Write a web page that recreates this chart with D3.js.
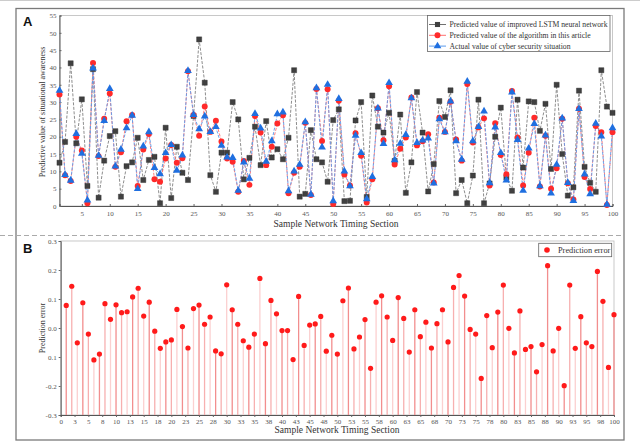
<!DOCTYPE html>
<html>
<head>
<meta charset="utf-8">
<script src="https://cdn.jsdelivr.net/npm/d3@7"></script>
<style>
  body { margin: 0; background: #fff; }
  svg { display: block; }
  text { font-family: "Liberation Serif", "Times New Roman", serif; }
</style>
</head>
<body>
<svg id="chart" width="640" height="441"></svg>
<script>
// Panel A data: samples 1..100
const samples = d3.range(1, 101);

const lstmValues = [
  12.5, 18.5, 41.2, 18.1, 30.8, 5.8, 39.5, 2.4, 13.1, 20.2,
  21.6, 2.7, 11.5, 12.6, 19.7, 7.5, 13.3, 14.2, 0.8, 22.6,
  2.3, 17.1, 9.6, 7.5, 26.0, 48.1, 35.6, 8.9, 4.1, 15.4,
  15.4, 30.0, 25.0, 7.7, 13.9, 22.9, 11.8, 24.5, 14.0, 16.4,
  13.5, 19.7, 39.2, 2.7, 3.5, 21.9, 13.5, 12.6, 7.0, 24.8,
  27.9, 1.4, 1.5, 24.7, 30.0, 2.6, 31.9, 22.9, 21.2, 26.9,
  13.0, 26.4, 3.8, 12.6, 32.9, 21.2, 4.2, 12.1, 30.3, 25.7,
  33.4, 3.7, 7.5, 0.8, 8.8, 30.7, 0.8, 6.5, 20.0, 28.4,
  8.2, 4.4, 30.7, 11.1, 30.2, 30.0, 21.7, 29.5, 10.7, 35.0,
  15.0, 3.0, 5.4, 33.3, 11.3, 6.7, 4.1, 39.2, 28.7, 26.9
];

const algoValues = [
  32.2, 8.9, 7.2, 20.0, 16.0, 0.8, 41.3, 14.4, 25.2, 32.5,
  11.3, 15.5, 24.5, 26.3, 5.8, 16.3, 20.8, 7.7, 7.0, 13.7,
  17.6, 12.5, 13.8, 38.9, 26.3, 20.3, 28.7, 21.4, 24.6, 18.6,
  13.7, 12.8, 4.1, 13.0, 6.1, 26.0, 21.2, 11.8, 17.1, 23.8,
  26.2, 3.7, 9.6, 11.3, 24.0, 3.2, 33.8, 18.8, 33.7, 0.6,
  30.4, 9.1, 5.9, 21.0, 14.5, 1.0, 7.7, 28.2, 19.0, 34.6,
  12.0, 16.5, 19.8, 31.3, 17.5, 18.7, 20.7, 6.8, 25.5, 21.4,
  30.1, 19.2, 13.1, 35.2, 18.3, 22.7, 25.3, 5.9, 23.9, 14.7,
  9.2, 33.2, 19.8, 5.9, 15.4, 25.5, 5.6, 20.3, 5.0, 10.9,
  25.2, 6.6, 1.9, 28.1, 8.4, 4.9, 23.1, 21.3, 0.3, 21.3
];

const actualValues = [
  33.2, 8.9, 7.2, 20.7, 15.0, 1.5, 39.6, 14.4, 24.5, 33.7,
  11.3, 16.2, 22.4, 26.0, 4.8, 17.1, 21.2, 10.9, 9.1, 15.2,
  17.5, 10.1, 14.5, 38.9, 26.2, 22.1, 25.8, 21.3, 22.7, 17.3,
  13.9, 13.8, 4.3, 12.5, 7.8, 26.5, 22.3, 12.7, 18.6, 26.4,
  26.9, 4.2, 9.9, 11.8, 24.1, 3.2, 33.9, 16.8, 34.9, 1.3,
  30.8, 9.9, 5.6, 20.2, 15.2, 1.9, 8.3, 28.1, 17.8, 35.4,
  13.1, 17.9, 20.4, 31.0, 18.1, 18.8, 19.4, 6.4, 25.0, 21.2,
  30.1, 18.6, 13.3, 35.8, 18.6, 22.7, 27.2, 6.5, 22.6, 15.2,
  7.3, 32.7, 19.0, 4.3, 16.5, 23.6, 5.6, 20.3, 3.5, 11.8,
  25.2, 6.6, 1.4, 27.9, 9.0, 3.3, 23.7, 20.0, 0.3, 22.4
];

const topXTicks = d3.range(5, 101, 5);
const topYTicks = d3.range(0, 56, 5);

// Panel B data
const errorValues = [
  0.078, 0.144, -0.051, 0.087, -0.021, -0.110, -0.090, 0.084, 0.030, 0.080,
  0.053, 0.056, 0.107, 0.137, 0.041, 0.089, -0.011, -0.070, -0.048, -0.041,
  0.064, 0.005, -0.069, 0.067, 0.079, 0.013, 0.038, -0.079, -0.089, 0.149,
  0.063, 0.013, -0.044, -0.066, -0.021, 0.171, -0.054, 0.095, 0.049, -0.009,
  -0.009, -0.109, 0.109, -0.060, 0.010, 0.014, 0.040, -0.080, -0.025, -0.090,
  0.094, 0.138, -0.072, -0.031, 0.029, -0.139, 0.089, 0.111, 0.038, -0.043,
  0.105, 0.033, -0.083, 0.063, -0.030, 0.020, -0.069, 0.015, 0.063, -0.048,
  0.140, 0.181, 0.110, -0.005, -0.021, -0.174, 0.043, -0.068, 0.055, 0.148,
  -0.001, -0.086, 0.059, -0.074, -0.064, -0.151, -0.057, 0.215, -0.079, -0.001,
  -0.199, 0.148, -0.070, 0.039, -0.051, -0.064, 0.195, 0.092, -0.136, 0.046
];

const botXTicks = d3.range(0, 100.1, 2.5);
const botYTicks = [-0.3, -0.2, -0.1, 0, 0.1, 0.2, 0.3];
const botYLabels = ["-0.3", "-0.2", "0.1", "0.0", "0.1", "0.2", "0.3"];

const legendA = [
  "Predicted value of improved LSTM neural network",
  "Predicted value of the algorithm in this article",
  "Actual value of cyber security situation"
];

const svg = d3.select("#chart");

// outer frame and divider
svg.append("line").attr("x1", 0).attr("x2", 640).attr("y1", 0.5).attr("y2", 0.5)
  .attr("stroke", "#ccc").attr("stroke-width", 1);
svg.append("rect").attr("x", 16).attr("y", 8.5).attr("width", 608).attr("height", 431.5)
  .attr("fill", "none").attr("stroke", "#7a7a7a").attr("stroke-width", 1.3);
svg.append("line").attr("x1", 0).attr("x2", 624).attr("y1", 235.5).attr("y2", 235.5)
  .attr("stroke", "#aaa").attr("stroke-dasharray", "5,3").attr("stroke-width", 1);

svg.append("text").attr("x", 23).attr("y", 26).text("A")
  .style("font-family", "'Liberation Sans', Arial, sans-serif")
  .attr("font-weight", "bold").attr("font-size", 13).attr("fill", "#111");
svg.append("text").attr("x", 23).attr("y", 253).text("B")
  .style("font-family", "'Liberation Sans', Arial, sans-serif")
  .attr("font-weight", "bold").attr("font-size", 13).attr("fill", "#111");

// ---------- Panel A ----------
const xA = d3.scaleLinear().domain([1, 100]).range([59.5, 612.5]);
const yA = d3.scaleLinear().domain([0, 55]).range([206, 15.5]);

const gA = svg.append("g");
gA.append("rect").attr("x", 59.5).attr("y", 15.5).attr("width", 553).attr("height", 190.5)
  .attr("fill", "none").attr("stroke", "#bbb").attr("stroke-width", 0.8);

const axA_x = gA.append("g").attr("transform", "translate(0,206)")
  .call(d3.axisBottom(xA).tickValues(topXTicks).tickSize(-2).tickPadding(5));
const axA_y = gA.append("g").attr("transform", "translate(59.5,0)")
  .call(d3.axisLeft(yA).tickValues(topYTicks).tickSize(-2).tickPadding(3));
[axA_x, axA_y].forEach(ax => {
  ax.select(".domain").attr("stroke", "#444").attr("stroke-width", 0.9);
  ax.selectAll(".tick line").attr("stroke", "#666");
  ax.selectAll(".tick text").attr("font-size", 7).attr("fill", "#555")
    .style("font-family", "'Liberation Serif', serif");
});

gA.append("text").attr("x", 336).attr("y", 227).attr("text-anchor", "middle")
  .attr("font-size", 9.5).attr("fill", "#333").text("Sample Network Timing Section");
gA.append("text").attr("transform", "translate(45,112) rotate(-90)").attr("text-anchor", "middle")
  .attr("font-size", 8).attr("fill", "#333").text("Predictive value of situational awareness");

const lineA = vals => d3.line().x((d, i) => xA(samples[i])).y(d => yA(d))(vals);

gA.append("path").attr("d", lineA(lstmValues)).attr("fill", "none")
  .attr("stroke", "#707070").attr("stroke-width", 0.8).attr("stroke-dasharray", "3,1.5");
gA.append("path").attr("d", lineA(algoValues)).attr("fill", "none")
  .attr("stroke", "#ff7070").attr("stroke-width", 0.9).attr("stroke-dasharray", "3,1.5");
gA.append("path").attr("d", lineA(actualValues)).attr("fill", "none")
  .attr("stroke", "#5b9bec").attr("stroke-width", 0.9).attr("stroke-dasharray", "3,1.5");

const sq = d3.symbol().type(d3.symbolSquare).size(26);
const circ = d3.symbol().type(d3.symbolCircle).size(28);
const tri = d3.symbol().type(d3.symbolTriangle).size(26);

gA.selectAll(".sq").data(lstmValues).join("path").attr("class", "sq")
  .attr("d", sq).attr("transform", (d, i) => `translate(${xA(samples[i])},${yA(d)})`)
  .attr("fill", "#404040").attr("stroke", "#2a2a2a").attr("stroke-width", 0.4);
gA.selectAll(".circ").data(algoValues).join("path").attr("class", "circ")
  .attr("d", circ).attr("transform", (d, i) => `translate(${xA(samples[i])},${yA(d)})`)
  .attr("fill", "#ff2a2a");
gA.selectAll(".tri").data(actualValues).join("path").attr("class", "tri")
  .attr("d", tri).attr("transform", (d, i) => `translate(${xA(samples[i])},${yA(d) - 0.5})`)
  .attr("fill", "#1f6fe0");

// legend A
const legA = gA.append("g");
legA.append("rect").attr("x", 427.5).attr("y", 15.5).attr("width", 182.5).attr("height", 36)
  .attr("fill", "#fff").attr("stroke", "#666").attr("stroke-width", 0.8);
const legColors = ["#707070", "#ff7070", "#5b9bec"];
const legSymbols = [sq, circ, tri];
const legFills = ["#404040", "#ff2a2a", "#1f6fe0"];
legendA.forEach((label, i) => {
  const y = 24.5 + i * 10.8;
  legA.append("line").attr("x1", 429).attr("x2", 446).attr("y1", y).attr("y2", y)
    .attr("stroke", legColors[i]).attr("stroke-width", 1);
  legA.append("path").attr("d", legSymbols[i]).attr("transform", `translate(437.5,${y})`)
    .attr("fill", legFills[i]);
  legA.append("text").attr("x", 449.5).attr("y", y + 2.8).attr("font-size", 7.7)
    .attr("fill", "#333").text(label);
});

// ---------- Panel B ----------
const xB = d3.scaleLinear().domain([0, 100]).range([60.7, 614]);
const yB = d3.scaleLinear().domain([-0.3, 0.3]).range([415, 241]);

const gB = svg.append("g");
gB.append("rect").attr("x", 60.7).attr("y", 241).attr("width", 553.3).attr("height", 174)
  .attr("fill", "none").attr("stroke", "#bbb").attr("stroke-width", 0.8);

gB.selectAll(".stem").data(errorValues).join("line").attr("class", "stem")
  .attr("x1", (d, i) => xB(samples[i])).attr("x2", (d, i) => xB(samples[i]))
  .attr("y1", yB(-0.3)).attr("y2", d => yB(d))
  .attr("stroke", (d, i) => i % 3 === 0 ? "#f28e8e" : (i % 3 === 1 ? "#f7b0b0" : "#fbd0d0"))
  .attr("stroke-width", 1.3);

gB.selectAll(".dot").data(errorValues).join("circle").attr("class", "dot")
  .attr("cx", (d, i) => xB(samples[i])).attr("cy", d => yB(d)).attr("r", 2.6)
  .attr("fill", "#ff1a1a");

const axB_x = gB.append("g").attr("transform", "translate(0,415)")
  .call(d3.axisBottom(xB).tickValues(botXTicks).tickFormat(d => Math.round(d)).tickSize(2).tickPadding(2));
const axB_y = gB.append("g").attr("transform", "translate(60.7,0)")
  .call(d3.axisLeft(yB).tickValues(botYTicks).tickFormat((d, i) => botYLabels[i]).tickSize(2).tickPadding(2));
[axB_x, axB_y].forEach(ax => {
  ax.select(".domain").attr("stroke", "#444").attr("stroke-width", 0.9);
  ax.selectAll(".tick line").attr("stroke", "#666");
  ax.selectAll(".tick text").attr("font-size", 7).attr("fill", "#555")
    .style("font-family", "'Liberation Serif', serif");
});

gB.append("text").attr("x", 337).attr("y", 433).attr("text-anchor", "middle")
  .attr("font-size", 9.5).attr("fill", "#333").text("Sample Network Timing Section");
gB.append("text").attr("transform", "translate(45,328) rotate(-90)").attr("text-anchor", "middle")
  .attr("font-size", 8).attr("fill", "#333").text("Prediction error");

// legend B
gB.append("rect").attr("x", 538.7).attr("y", 243.3).attr("width", 73).attr("height", 13.4)
  .attr("fill", "#fff").attr("stroke", "#666").attr("stroke-width", 0.8);
gB.append("circle").attr("cx", 547).attr("cy", 250).attr("r", 2.8).attr("fill", "#ff1a1a");
gB.append("text").attr("x", 558).attr("y", 252.8).attr("font-size", 8.3).attr("fill", "#333")
  .text("Prediction error");
</script>
</body>
</html>
